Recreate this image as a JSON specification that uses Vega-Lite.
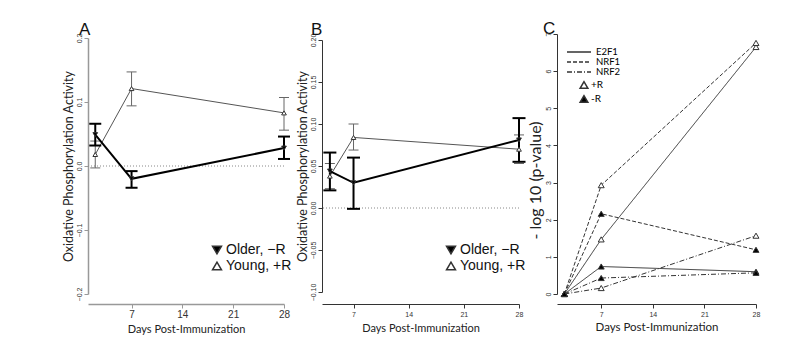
{
"$schema": "https://vega.github.io/schema/vega-lite/v6.json",
"padding": {"left": 62, "top": 20, "right": 5, "bottom": 5},
"datasets": {
"A": [
{"day": 2, "group": "Older, −R", "mean": 0.049, "lo": 0.032, "hi": 0.066},
{"day": 7, "group": "Older, −R", "mean": -0.020, "lo": -0.034, "hi": -0.008},
{"day": 28, "group": "Older, −R", "mean": 0.028, "lo": 0.011, "hi": 0.046},
{"day": 2, "group": "Young, +R", "mean": 0.018, "lo": -0.003, "hi": 0.039},
{"day": 7, "group": "Young, +R", "mean": 0.121, "lo": 0.094, "hi": 0.147},
{"day": 28, "group": "Young, +R", "mean": 0.083, "lo": 0.056, "hi": 0.107}
],
"B": [
{"day": 4, "group": "Older, −R", "mean": 0.044, "lo": 0.021, "hi": 0.066},
{"day": 7, "group": "Older, −R", "mean": 0.030, "lo": -0.001, "hi": 0.060},
{"day": 28, "group": "Older, −R", "mean": 0.081, "lo": 0.055, "hi": 0.107},
{"day": 4, "group": "Young, +R", "mean": 0.038, "lo": 0.023, "hi": 0.053},
{"day": 7, "group": "Young, +R", "mean": 0.084, "lo": 0.069, "hi": 0.100},
{"day": 28, "group": "Young, +R", "mean": 0.070, "lo": 0.053, "hi": 0.087}
],
"C": [
{"gene": "E2F1", "R": "+R", "day": 2, "value": 0},
{"gene": "E2F1", "R": "+R", "day": 7, "value": 1.47},
{"gene": "E2F1", "R": "+R", "day": 28, "value": 6.65},
{"gene": "NRF1", "R": "+R", "day": 2, "value": 0},
{"gene": "NRF1", "R": "+R", "day": 7, "value": 2.93},
{"gene": "NRF1", "R": "+R", "day": 28, "value": 6.76},
{"gene": "NRF2", "R": "+R", "day": 2, "value": 0},
{"gene": "NRF2", "R": "+R", "day": 7, "value": 0.16},
{"gene": "NRF2", "R": "+R", "day": 28, "value": 1.57},
{"gene": "E2F1", "R": "-R", "day": 2, "value": 0},
{"gene": "E2F1", "R": "-R", "day": 7, "value": 0.74},
{"gene": "E2F1", "R": "-R", "day": 28, "value": 0.60},
{"gene": "NRF1", "R": "-R", "day": 2, "value": 0},
{"gene": "NRF1", "R": "-R", "day": 7, "value": 2.16},
{"gene": "NRF1", "R": "-R", "day": 28, "value": 1.19},
{"gene": "NRF2", "R": "-R", "day": 2, "value": 0},
{"gene": "NRF2", "R": "-R", "day": 7, "value": 0.43},
{"gene": "NRF2", "R": "-R", "day": 28, "value": 0.57}
]
},
"spacing": 38,
"bounds": "flush",
"hconcat": [
{
"width": 196, "height": 270,
"title": {"text": "A", "dx": -9},
"data": {"name": "A"},
"layer": [
{"data": {"values": [{"z": 0}]}, "mark": {"type": "rule", "strokeDash": [1, 2], "color": "#888", "strokeWidth": 1},
 "encoding": {"y": {"field": "z", "type": "quantitative", "scale": {"domain": [-0.2, 0.2], "range": [260, 4], "nice": false, "zero": false}, "axis": {"title": "Oxidative Phosphorylation Activity", "values": [-0.2, -0.1, 0, 0.1, 0.2], "format": ".1f", "labelAngle": -90, "labelAlign": "center", "labelBaseline": "bottom", "labelPadding": 2, "domainColor": "#999", "domainWidth": 1.5, "tickColor": "#999", "titlePadding": 0}}}},
{"transform": [{"filter": "datum.group === 'Young, +R'"}], "mark": {"type": "rule", "color": "#666", "strokeWidth": 1},
 "encoding": {"x": {"field": "day", "type": "quantitative", "scale": {"domain": [1, 28], "nice": false, "zero": false}, "axis": {"title": "Days Post-Immunization", "values": [7, 14, 21, 28], "format": "d", "labelFontSize": 10, "labelPadding": 1, "titlePadding": 4, "domainColor": "#999", "domainWidth": 1.5, "tickColor": "#999"}},
  "y": {"field": "lo", "type": "quantitative", "scale": {"domain": [-0.2, 0.2], "range": [260, 4], "nice": false, "zero": false}, "axis": {"title": "Oxidative Phosphorylation Activity", "values": [-0.2, -0.1, 0, 0.1, 0.2], "format": ".1f", "labelAngle": -90, "labelAlign": "center", "labelBaseline": "bottom", "labelPadding": 2, "domainColor": "#999", "domainWidth": 1.5, "tickColor": "#999", "titlePadding": 0}},
  "y2": {"field": "hi"}}},
{"transform": [{"filter": "datum.group === 'Young, +R'"}, {"fold": ["lo", "hi"], "as": ["k", "v"]}], "mark": {"type": "tick", "orient": "horizontal", "color": "#666", "thickness": 1, "size": 10, "opacity": 1},
 "encoding": {"x": {"field": "day", "type": "quantitative", "scale": {"domain": [1, 28], "nice": false, "zero": false}, "axis": {"title": "Days Post-Immunization", "values": [7, 14, 21, 28], "format": "d", "labelFontSize": 10, "labelPadding": 1, "titlePadding": 4, "domainColor": "#999", "domainWidth": 1.5, "tickColor": "#999"}},
  "y": {"field": "v", "type": "quantitative", "scale": {"domain": [-0.2, 0.2], "range": [260, 4], "nice": false, "zero": false}, "axis": {"title": "Oxidative Phosphorylation Activity", "values": [-0.2, -0.1, 0, 0.1, 0.2], "format": ".1f", "labelAngle": -90, "labelAlign": "center", "labelBaseline": "bottom", "labelPadding": 2, "domainColor": "#999", "domainWidth": 1.5, "tickColor": "#999", "titlePadding": 0}}}},
{"transform": [{"filter": "datum.group === 'Young, +R'"}], "mark": {"type": "line", "color": "#555", "strokeWidth": 1},
 "encoding": {"x": {"field": "day", "type": "quantitative", "scale": {"domain": [1, 28], "nice": false, "zero": false}, "axis": {"title": "Days Post-Immunization", "values": [7, 14, 21, 28], "format": "d", "labelFontSize": 10, "labelPadding": 1, "titlePadding": 4, "domainColor": "#999", "domainWidth": 1.5, "tickColor": "#999"}},
  "y": {"field": "mean", "type": "quantitative", "scale": {"domain": [-0.2, 0.2], "range": [260, 4], "nice": false, "zero": false}, "axis": {"title": "Oxidative Phosphorylation Activity", "values": [-0.2, -0.1, 0, 0.1, 0.2], "format": ".1f", "labelAngle": -90, "labelAlign": "center", "labelBaseline": "bottom", "labelPadding": 2, "domainColor": "#999", "domainWidth": 1.5, "tickColor": "#999", "titlePadding": 0}}}},
{"transform": [{"filter": "datum.group === 'Older, −R'"}], "mark": {"type": "rule", "color": "black", "strokeWidth": 2},
 "encoding": {"x": {"field": "day", "type": "quantitative", "scale": {"domain": [1, 28], "nice": false, "zero": false}, "axis": {"title": "Days Post-Immunization", "values": [7, 14, 21, 28], "format": "d", "labelFontSize": 10, "labelPadding": 1, "titlePadding": 4, "domainColor": "#999", "domainWidth": 1.5, "tickColor": "#999"}},
  "y": {"field": "lo", "type": "quantitative", "scale": {"domain": [-0.2, 0.2], "range": [260, 4], "nice": false, "zero": false}, "axis": {"title": "Oxidative Phosphorylation Activity", "values": [-0.2, -0.1, 0, 0.1, 0.2], "format": ".1f", "labelAngle": -90, "labelAlign": "center", "labelBaseline": "bottom", "labelPadding": 2, "domainColor": "#999", "domainWidth": 1.5, "tickColor": "#999", "titlePadding": 0}},
  "y2": {"field": "hi"}}},
{"transform": [{"filter": "datum.group === 'Older, −R'"}, {"fold": ["lo", "hi"], "as": ["k", "v"]}], "mark": {"type": "tick", "orient": "horizontal", "color": "black", "thickness": 2, "size": 12, "opacity": 1},
 "encoding": {"x": {"field": "day", "type": "quantitative", "scale": {"domain": [1, 28], "nice": false, "zero": false}, "axis": {"title": "Days Post-Immunization", "values": [7, 14, 21, 28], "format": "d", "labelFontSize": 10, "labelPadding": 1, "titlePadding": 4, "domainColor": "#999", "domainWidth": 1.5, "tickColor": "#999"}},
  "y": {"field": "v", "type": "quantitative", "scale": {"domain": [-0.2, 0.2], "range": [260, 4], "nice": false, "zero": false}, "axis": {"title": "Oxidative Phosphorylation Activity", "values": [-0.2, -0.1, 0, 0.1, 0.2], "format": ".1f", "labelAngle": -90, "labelAlign": "center", "labelBaseline": "bottom", "labelPadding": 2, "domainColor": "#999", "domainWidth": 1.5, "tickColor": "#999", "titlePadding": 0}}}},
{"transform": [{"filter": "datum.group === 'Older, −R'"}], "mark": {"type": "line", "color": "black", "strokeWidth": 2},
 "encoding": {"x": {"field": "day", "type": "quantitative", "scale": {"domain": [1, 28], "nice": false, "zero": false}, "axis": {"title": "Days Post-Immunization", "values": [7, 14, 21, 28], "format": "d", "labelFontSize": 10, "labelPadding": 1, "titlePadding": 4, "domainColor": "#999", "domainWidth": 1.5, "tickColor": "#999"}},
  "y": {"field": "mean", "type": "quantitative", "scale": {"domain": [-0.2, 0.2], "range": [260, 4], "nice": false, "zero": false}, "axis": {"title": "Oxidative Phosphorylation Activity", "values": [-0.2, -0.1, 0, 0.1, 0.2], "format": ".1f", "labelAngle": -90, "labelAlign": "center", "labelBaseline": "bottom", "labelPadding": 2, "domainColor": "#999", "domainWidth": 1.5, "tickColor": "#999", "titlePadding": 0}}}},
{"mark": {"type": "point", "filled": true, "size": 22, "strokeWidth": 1, "opacity": 1, "stroke": "#333"},
 "encoding": {"x": {"field": "day", "type": "quantitative", "scale": {"domain": [1, 28], "nice": false, "zero": false}, "axis": {"title": "Days Post-Immunization", "values": [7, 14, 21, 28], "format": "d", "labelFontSize": 10, "labelPadding": 1, "titlePadding": 4, "domainColor": "#999", "domainWidth": 1.5, "tickColor": "#999"}},
  "y": {"field": "mean", "type": "quantitative", "scale": {"domain": [-0.2, 0.2], "range": [260, 4], "nice": false, "zero": false}, "axis": {"title": "Oxidative Phosphorylation Activity", "values": [-0.2, -0.1, 0, 0.1, 0.2], "format": ".1f", "labelAngle": -90, "labelAlign": "center", "labelBaseline": "bottom", "labelPadding": 2, "domainColor": "#999", "domainWidth": 1.5, "tickColor": "#999", "titlePadding": 0}},
  "shape": {"field": "group", "type": "nominal", "scale": {"domain": ["Older, −R", "Young, +R"], "range": ["triangle-down", "triangle-up"]}, "legend": {"title": null, "orient": "none", "legendX": 122, "legendY": 209, "labelFont": "Liberation Sans", "labelFontSize": 14, "labelColor": "#111", "symbolSize": 80, "rowPadding": 2, "labelOffset": 2, "encode": {"symbols": {"update": {"stroke": {"value": "black"}, "strokeWidth": {"value": 1.2}}}}}},
  "fill": {"field": "group", "type": "nominal", "scale": {"domain": ["Older, −R", "Young, +R"], "range": ["black", "white"]}, "legend": {"title": null, "orient": "none", "legendX": 122, "legendY": 209, "labelFont": "Liberation Sans", "labelFontSize": 14, "labelColor": "#111", "symbolSize": 80, "rowPadding": 2, "labelOffset": 2, "encode": {"symbols": {"update": {"stroke": {"value": "black"}, "strokeWidth": {"value": 1.2}}}}}}}}
]
},
{
"width": 197, "height": 270,
"title": {"text": "B", "dx": -11},
"data": {"name": "B"},
"layer": [
{"data": {"values": [{"z": 0}]}, "mark": {"type": "rule", "strokeDash": [1, 2], "color": "#888", "strokeWidth": 1},
 "encoding": {"y": {"field": "z", "type": "quantitative", "scale": {"domain": [-0.1, 0.2], "range": [258, 6], "nice": false, "zero": false}, "axis": {"title": "Oxidative Phosphorylation Activity", "values": [-0.1, -0.05, 0, 0.05, 0.1, 0.15, 0.2], "format": ".2f", "labelAngle": -90, "labelAlign": "center", "labelBaseline": "bottom", "labelPadding": 2, "domainColor": "#333", "tickColor": "#333", "titlePadding": 0}}}},
{"transform": [{"filter": "datum.group === 'Young, +R'"}], "mark": {"type": "rule", "color": "#666", "strokeWidth": 1},
 "encoding": {"x": {"field": "day", "type": "quantitative", "scale": {"domain": [3, 28], "nice": false, "zero": false}, "axis": {"title": "Days Post-Immunization", "values": [7, 14, 21, 28], "format": "d", "labelPadding": 2, "titlePadding": 5, "domainColor": "#333", "tickColor": "#333"}},
  "y": {"field": "lo", "type": "quantitative", "scale": {"domain": [-0.1, 0.2], "range": [258, 6], "nice": false, "zero": false}, "axis": {"title": "Oxidative Phosphorylation Activity", "values": [-0.1, -0.05, 0, 0.05, 0.1, 0.15, 0.2], "format": ".2f", "labelAngle": -90, "labelAlign": "center", "labelBaseline": "bottom", "labelPadding": 2, "domainColor": "#333", "tickColor": "#333", "titlePadding": 0}},
  "y2": {"field": "hi"}}},
{"transform": [{"filter": "datum.group === 'Young, +R'"}, {"fold": ["lo", "hi"], "as": ["k", "v"]}], "mark": {"type": "tick", "orient": "horizontal", "color": "#666", "thickness": 1, "size": 10, "opacity": 1},
 "encoding": {"x": {"field": "day", "type": "quantitative", "scale": {"domain": [3, 28], "nice": false, "zero": false}, "axis": {"title": "Days Post-Immunization", "values": [7, 14, 21, 28], "format": "d", "labelPadding": 2, "titlePadding": 5, "domainColor": "#333", "tickColor": "#333"}},
  "y": {"field": "v", "type": "quantitative", "scale": {"domain": [-0.1, 0.2], "range": [258, 6], "nice": false, "zero": false}, "axis": {"title": "Oxidative Phosphorylation Activity", "values": [-0.1, -0.05, 0, 0.05, 0.1, 0.15, 0.2], "format": ".2f", "labelAngle": -90, "labelAlign": "center", "labelBaseline": "bottom", "labelPadding": 2, "domainColor": "#333", "tickColor": "#333", "titlePadding": 0}}}},
{"transform": [{"filter": "datum.group === 'Young, +R'"}], "mark": {"type": "line", "color": "#555", "strokeWidth": 1},
 "encoding": {"x": {"field": "day", "type": "quantitative", "scale": {"domain": [3, 28], "nice": false, "zero": false}, "axis": {"title": "Days Post-Immunization", "values": [7, 14, 21, 28], "format": "d", "labelPadding": 2, "titlePadding": 5, "domainColor": "#333", "tickColor": "#333"}},
  "y": {"field": "mean", "type": "quantitative", "scale": {"domain": [-0.1, 0.2], "range": [258, 6], "nice": false, "zero": false}, "axis": {"title": "Oxidative Phosphorylation Activity", "values": [-0.1, -0.05, 0, 0.05, 0.1, 0.15, 0.2], "format": ".2f", "labelAngle": -90, "labelAlign": "center", "labelBaseline": "bottom", "labelPadding": 2, "domainColor": "#333", "tickColor": "#333", "titlePadding": 0}}}},
{"transform": [{"filter": "datum.group === 'Older, −R'"}], "mark": {"type": "rule", "color": "black", "strokeWidth": 2},
 "encoding": {"x": {"field": "day", "type": "quantitative", "scale": {"domain": [3, 28], "nice": false, "zero": false}, "axis": {"title": "Days Post-Immunization", "values": [7, 14, 21, 28], "format": "d", "labelPadding": 2, "titlePadding": 5, "domainColor": "#333", "tickColor": "#333"}},
  "y": {"field": "lo", "type": "quantitative", "scale": {"domain": [-0.1, 0.2], "range": [258, 6], "nice": false, "zero": false}, "axis": {"title": "Oxidative Phosphorylation Activity", "values": [-0.1, -0.05, 0, 0.05, 0.1, 0.15, 0.2], "format": ".2f", "labelAngle": -90, "labelAlign": "center", "labelBaseline": "bottom", "labelPadding": 2, "domainColor": "#333", "tickColor": "#333", "titlePadding": 0}},
  "y2": {"field": "hi"}}},
{"transform": [{"filter": "datum.group === 'Older, −R'"}, {"fold": ["lo", "hi"], "as": ["k", "v"]}], "mark": {"type": "tick", "orient": "horizontal", "color": "black", "thickness": 2, "size": 13, "opacity": 1},
 "encoding": {"x": {"field": "day", "type": "quantitative", "scale": {"domain": [3, 28], "nice": false, "zero": false}, "axis": {"title": "Days Post-Immunization", "values": [7, 14, 21, 28], "format": "d", "labelPadding": 2, "titlePadding": 5, "domainColor": "#333", "tickColor": "#333"}},
  "y": {"field": "v", "type": "quantitative", "scale": {"domain": [-0.1, 0.2], "range": [258, 6], "nice": false, "zero": false}, "axis": {"title": "Oxidative Phosphorylation Activity", "values": [-0.1, -0.05, 0, 0.05, 0.1, 0.15, 0.2], "format": ".2f", "labelAngle": -90, "labelAlign": "center", "labelBaseline": "bottom", "labelPadding": 2, "domainColor": "#333", "tickColor": "#333", "titlePadding": 0}}}},
{"transform": [{"filter": "datum.group === 'Older, −R'"}], "mark": {"type": "line", "color": "black", "strokeWidth": 2},
 "encoding": {"x": {"field": "day", "type": "quantitative", "scale": {"domain": [3, 28], "nice": false, "zero": false}, "axis": {"title": "Days Post-Immunization", "values": [7, 14, 21, 28], "format": "d", "labelPadding": 2, "titlePadding": 5, "domainColor": "#333", "tickColor": "#333"}},
  "y": {"field": "mean", "type": "quantitative", "scale": {"domain": [-0.1, 0.2], "range": [258, 6], "nice": false, "zero": false}, "axis": {"title": "Oxidative Phosphorylation Activity", "values": [-0.1, -0.05, 0, 0.05, 0.1, 0.15, 0.2], "format": ".2f", "labelAngle": -90, "labelAlign": "center", "labelBaseline": "bottom", "labelPadding": 2, "domainColor": "#333", "tickColor": "#333", "titlePadding": 0}}}},
{"mark": {"type": "point", "filled": true, "size": 22, "strokeWidth": 1, "opacity": 1, "stroke": "#333"},
 "encoding": {"x": {"field": "day", "type": "quantitative", "scale": {"domain": [3, 28], "nice": false, "zero": false}, "axis": {"title": "Days Post-Immunization", "values": [7, 14, 21, 28], "format": "d", "labelPadding": 2, "titlePadding": 5, "domainColor": "#333", "tickColor": "#333"}},
  "y": {"field": "mean", "type": "quantitative", "scale": {"domain": [-0.1, 0.2], "range": [258, 6], "nice": false, "zero": false}, "axis": {"title": "Oxidative Phosphorylation Activity", "values": [-0.1, -0.05, 0, 0.05, 0.1, 0.15, 0.2], "format": ".2f", "labelAngle": -90, "labelAlign": "center", "labelBaseline": "bottom", "labelPadding": 2, "domainColor": "#333", "tickColor": "#333", "titlePadding": 0}},
  "shape": {"field": "group", "type": "nominal", "scale": {"domain": ["Older, −R", "Young, +R"], "range": ["triangle-down", "triangle-up"]}, "legend": {"title": null, "orient": "none", "legendX": 122, "legendY": 209, "labelFont": "Liberation Sans", "labelFontSize": 14, "labelColor": "#111", "symbolSize": 80, "rowPadding": 2, "labelOffset": 2, "encode": {"symbols": {"update": {"stroke": {"value": "black"}, "strokeWidth": {"value": 1.2}}}}}},
  "fill": {"field": "group", "type": "nominal", "scale": {"domain": ["Older, −R", "Young, +R"], "range": ["black", "white"]}, "legend": {"title": null, "orient": "none", "legendX": 122, "legendY": 209, "labelFont": "Liberation Sans", "labelFontSize": 14, "labelColor": "#111", "symbolSize": 80, "rowPadding": 2, "labelOffset": 2, "encode": {"symbols": {"update": {"stroke": {"value": "black"}, "strokeWidth": {"value": 1.2}}}}}}}}
]
},
{
"width": 199, "height": 270,
"title": {"text": "C", "dx": -14},
"data": {"name": "C"},
"layer": [
{"mark": {"type": "line", "color": "#333", "strokeWidth": 1},
 "encoding": {"x": {"field": "day", "type": "quantitative", "scale": {"domain": [1, 28], "nice": false, "zero": false}, "axis": {"title": "Days Post-Immunization", "values": [7, 14, 21, 28], "format": "d", "labelPadding": 2, "titlePadding": 4, "titleFontSize": 11.5, "domainColor": "#333", "tickColor": "#333"}},
  "y": {"field": "value", "type": "quantitative", "scale": {"domain": [0, 7], "range": [260, 0], "nice": false, "zero": false}, "axis": {"title": "- log 10 (p-value)", "values": [0, 1, 2, 3, 4, 5, 6, 7], "format": "d", "labelAngle": -90, "labelAlign": "center", "labelBaseline": "bottom", "labelPadding": 2, "titleFontSize": 16, "titleY": 146, "domainColor": "#333", "tickColor": "#333", "titlePadding": 1}},
  "detail": {"field": "R"},
  "strokeDash": {"field": "gene", "type": "nominal", "scale": {"domain": ["E2F1", "NRF1", "NRF2"], "range": [[1, 0], [4, 2], [5, 2, 1, 2]]}, "legend": {"title": null, "orient": "none", "legendX": 17, "legendY": 13, "symbolType": "M-3,0H3", "symbolSize": 64, "labelFont": "Lato", "labelFontSize": 9.5, "rowPadding": 0, "labelOffset": 12, "encode": {"symbols": {"update": {"stroke": {"value": "black"}, "strokeWidth": {"value": 1.3}, "fill": {"value": "transparent"}}}}}}}},
{"mark": {"type": "point", "filled": true, "size": 35, "strokeWidth": 1, "opacity": 1, "stroke": "#333"},
 "encoding": {"x": {"field": "day", "type": "quantitative", "scale": {"domain": [1, 28], "nice": false, "zero": false}, "axis": {"title": "Days Post-Immunization", "values": [7, 14, 21, 28], "format": "d", "labelPadding": 2, "titlePadding": 4, "titleFontSize": 11.5, "domainColor": "#333", "tickColor": "#333"}},
  "y": {"field": "value", "type": "quantitative", "scale": {"domain": [0, 7], "range": [260, 0], "nice": false, "zero": false}, "axis": {"title": "- log 10 (p-value)", "values": [0, 1, 2, 3, 4, 5, 6, 7], "format": "d", "labelAngle": -90, "labelAlign": "center", "labelBaseline": "bottom", "labelPadding": 2, "titleFontSize": 16, "titleY": 146, "domainColor": "#333", "tickColor": "#333", "titlePadding": 1}},
  "shape": {"field": "R", "type": "nominal", "scale": {"domain": ["+R", "-R"], "range": ["triangle-up", "triangle-up"]}, "legend": {"title": null, "orient": "none", "legendX": 22, "legendY": 46, "labelFont": "Lato", "labelFontSize": 10, "symbolSize": 60, "rowPadding": 0, "labelOffset": 2, "encode": {"symbols": {"update": {"stroke": {"value": "black"}, "strokeWidth": {"value": 1}}}}}},
  "fill": {"field": "R", "type": "nominal", "scale": {"domain": ["+R", "-R"], "range": ["white", "black"]}, "legend": {"title": null, "orient": "none", "legendX": 22, "legendY": 46, "labelFont": "Lato", "labelFontSize": 10, "symbolSize": 60, "rowPadding": 0, "labelOffset": 2, "encode": {"symbols": {"update": {"stroke": {"value": "black"}, "strokeWidth": {"value": 1}}}}}}}}
]
}
],
"resolve": {
"scale": {"x": "independent", "y": "independent", "shape": "independent", "fill": "independent", "strokeDash": "independent"},
"legend": {"shape": "independent", "fill": "independent", "strokeDash": "independent"},
"axis": {"x": "independent", "y": "independent"}
},
"config": {
"view": {"stroke": null},
"axis": {"grid": false, "labelFont": "Liberation Sans", "labelFontSize": 7, "labelColor": "#333", "titleFont": "Lato", "titleFontSize": 11.5, "titleFontWeight": "normal", "titleColor": "#222", "tickSize": 4, "labelFlush": false, "labelOverlap": false},
"axisX": {"titleFontSize": 11},
"axisY": {"titleFontSize": 12.5},
"title": {"font": "Liberation Sans", "fontSize": 17, "fontWeight": "normal", "anchor": "start", "frame": "group", "offset": -6, "color": "#111"}
}
}
